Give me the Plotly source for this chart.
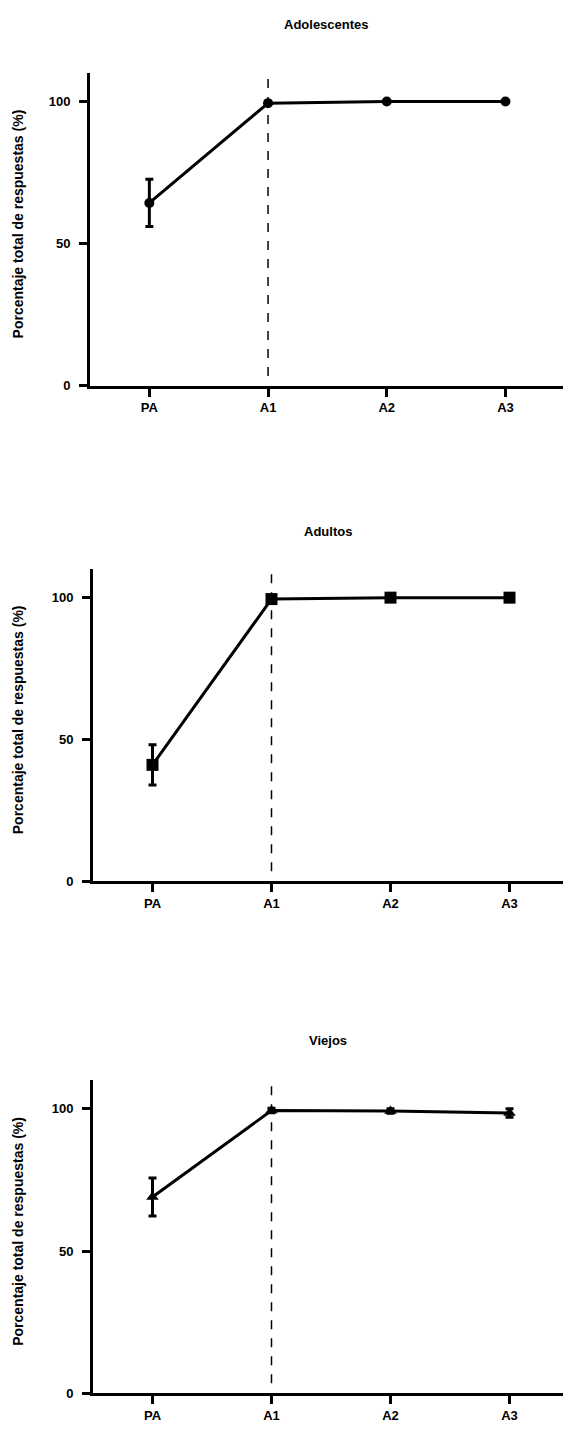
import plotly.graph_objects as go

# ---------------- data ----------------
categories = ["PA", "A1", "A2", "A3"]

titles = ["Adolescentes", "Adultos", "Viejos"]

adolescentes_mean = [64.3, 99.4, 100.0, 100.0]
adolescentes_err = [8.3, 0.4, 0.0, 0.0]

adultos_mean = [41.0, 99.5, 100.0, 100.0]
adultos_err = [7.1, 0.5, 0.0, 0.0]

viejos_mean = [69.0, 99.4, 99.2, 98.5]
viejos_err = [6.7, 0.8, 0.8, 1.5]

marker_symbols = ["circle", "square", "triangle-up"]
marker_sizes = [10, 12, 11]

y_ticks = [0, 50, 100]
y_max = 110
ref_category = "A1"
y_title = "Porcentaje total de respuestas (%)"

# ---------------- layout geometry (pixels) ----------------
W, H = 563, 1440
panels = [
    dict(left=90, bottom=388, ppu=2.86, spacing=118.7, title_y=25),
    dict(left=93, bottom=886, ppu=2.85, spacing=119.0, title_y=534),
    dict(left=93, bottom=1401, ppu=2.86, spacing=119.0, title_y=1046),
]

FONT = "Liberation Sans, Arial, Helvetica, sans-serif"
means = [adolescentes_mean, adultos_mean, viejos_mean]
errs = [adolescentes_err, adultos_err, viejos_err]

fig = go.Figure()
layout = dict(
    width=W, height=H,
    margin=dict(l=0, r=0, t=0, b=0),
    paper_bgcolor="white", plot_bgcolor="white",
    showlegend=False,
    font=dict(family=FONT, color="black"),
    annotations=[], shapes=[],
)

for i, p in enumerate(panels):
    n = "" if i == 0 else str(i + 1)
    xa, ya = "x" + n, "y" + n
    top_px = p["bottom"] - y_max * p["ppu"]
    x_dom = [p["left"] / W, 1.0]
    y_dom = [1 - p["bottom"] / H, 1 - top_px / H]
    x_hi = -0.5 + (W - p["left"]) / p["spacing"]

    fig.add_trace(go.Scatter(
        x=categories, y=means[i], xaxis=xa, yaxis=ya,
        mode="lines+markers",
        line=dict(color="black", width=3),
        marker=dict(symbol=marker_symbols[i], size=marker_sizes[i], color="black"),
        error_y=dict(type="data", array=errs[i], visible=True,
                     color="black", thickness=3, width=4),
        cliponaxis=False,
    ))

    axis_common = dict(
        showline=True, linewidth=3, linecolor="black",
        showgrid=False, zeroline=False,
        ticks="outside", ticklen=8, tickwidth=3, tickcolor="black",
        tickfont=dict(family=FONT, size=13, color="black", weight="bold"),
    )
    layout["xaxis" + n] = dict(
        axis_common, domain=x_dom, anchor=ya,
        type="category", categoryorder="array", categoryarray=categories,
        range=[-0.5, x_hi], fixedrange=True,
    )
    layout["yaxis" + n] = dict(
        axis_common, domain=y_dom, anchor=xa,
        range=[0, y_max], tickvals=y_ticks, ticklabelstandoff=6,
        fixedrange=True,
    )

    layout["shapes"].append(dict(
        type="line", xref=xa, yref=ya,
        x0=ref_category, x1=ref_category, y0=3.5, y1=y_max,
        line=dict(color="black", width=1.5, dash="dash"),
    ))

    layout["annotations"].append(dict(
        text="<b>" + titles[i] + "</b>", xref="paper", yref="paper",
        x=(p["left"] + W) / 2 / W, y=1 - p["title_y"] / H,
        xanchor="center", yanchor="middle", showarrow=False,
        font=dict(family=FONT, size=13, color="black"),
    ))
    layout["annotations"].append(dict(
        text="<b>" + y_title + "</b>", xref="paper", yref="paper",
        x=18 / W, y=1 - ((p["bottom"] + top_px) / 2 - 5) / H,
        xanchor="center", yanchor="middle", textangle=-90, showarrow=False,
        font=dict(family=FONT, size=14, color="black"),
    ))

fig.update_layout(**layout)

fig.write_html("out.html", config={"displayModeBar": False},
               post_script="document.body.style.margin='0';")
